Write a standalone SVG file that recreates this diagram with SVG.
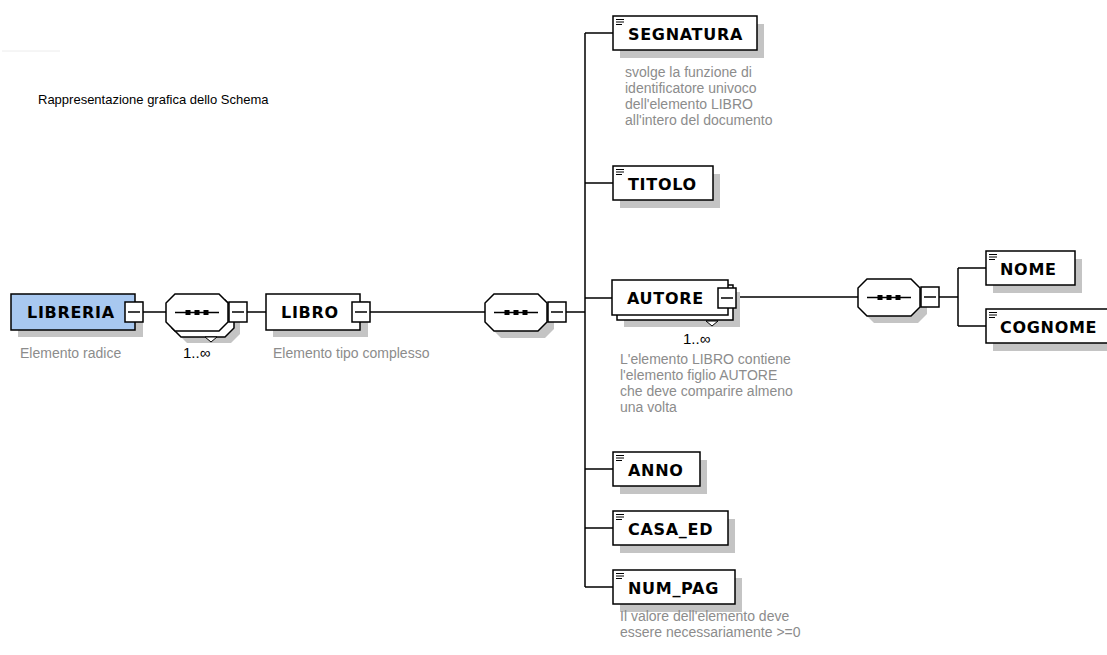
<svg xmlns="http://www.w3.org/2000/svg" xmlns:xlink="http://www.w3.org/1999/xlink" width="1107" height="655" viewBox="0 0 1107 655">
<style>
.box{fill:#fff;stroke:#000;stroke-width:1.5}
.root{fill:#a8c8f0;stroke:#000;stroke-width:1.5}
.sh{fill:#c4c4c4;stroke:none}
.ln{stroke:#000;stroke-width:1.5;fill:none}
.lbl{font-family:"DejaVu Sans",Verdana,sans-serif;font-weight:bold;font-size:16px;fill:#000;letter-spacing:0.7px}
.desc{font-family:"Liberation Sans",Arial,sans-serif;font-size:14px;fill:#8c8c8c}
.num{font-family:"Liberation Sans",Arial,sans-serif;font-size:15px;fill:#000}
.title{font-family:"Liberation Sans",Arial,sans-serif;font-size:13px;fill:#000}
</style>
<defs>
<g id="minus"><rect x="0" y="0" width="18" height="20" class="box"/><line x1="3" y1="10" x2="15" y2="10" class="ln"/></g>
<g id="icon"><path d="M0 0.5H8M0 3H8M0 5.5H6" stroke="#000" stroke-width="1" fill="none"/></g>
<path id="oct" d="M9 0H53L62 9V28L53 37H9L0 28V9Z"/>
<g id="seq"><line x1="9" y1="18.5" x2="53" y2="18.5" class="ln"/><rect x="19.5" y="16" width="5" height="5"/><rect x="28.5" y="16" width="5" height="5"/><rect x="37.5" y="16" width="5" height="5"/></g>
</defs>
<rect width="1107" height="655" fill="#fff"/>
<line x1="2" y1="51" x2="60" y2="51" stroke="#ececec" stroke-width="1"/>
<text class="title" x="38" y="104">Rappresentazione grafica dello Schema</text>

<g id="connectors">
<path class="ln" d="M143 312H166M247 312H266M370 312H485M566 312H585M585 33V587M585 33H613M585 183H613M585 298H612M585 469H613M585 528H613M585 587H613M735 297H858M939 297H958M958 268V326M958 268H986M958 326H986"/>
</g>

<g id="LIBRERIA">
<rect class="sh" x="18" y="301" width="125" height="36"/>
<rect class="root" x="11" y="294" width="124" height="36"/>
<text class="lbl" x="27" y="318">LIBRERIA</text>
<use xlink:href="#minus" x="125" y="302"/>
<text class="desc" x="20" y="358">Elemento radice</text>
</g>

<g id="seq1">
<use xlink:href="#oct" class="sh" x="178" y="306"/>
<use xlink:href="#oct" class="box" x="172" y="300"/>
<path d="M205 337H217L211 342Z" fill="#fff" stroke="#000" stroke-width="1"/>
<use xlink:href="#oct" class="box" x="166" y="294"/>
<use xlink:href="#seq" x="166" y="294"/>
<use xlink:href="#minus" x="229" y="302"/>
<text class="num" x="183" y="358">1..∞</text>
</g>

<g id="LIBRO">
<rect class="sh" x="273" y="301" width="95" height="36"/>
<rect class="box" x="266" y="294" width="94" height="36"/>
<text class="lbl" x="281" y="318">LIBRO</text>
<use xlink:href="#minus" x="352" y="302"/>
<text class="desc" x="273" y="358">Elemento tipo complesso</text>
</g>

<g id="seq2">
<use xlink:href="#oct" class="sh" x="492" y="301"/>
<use xlink:href="#oct" class="box" x="485" y="294"/>
<use xlink:href="#seq" x="485" y="294"/>
<use xlink:href="#minus" x="548" y="302"/>
</g>

<g id="SEGNATURA">
<rect class="sh" x="620" y="24" width="144" height="34"/>
<rect class="box" x="613" y="16" width="144" height="34"/>
<use xlink:href="#icon" x="616" y="19"/>
<text class="lbl" x="628" y="40">SEGNATURA</text>
<text class="desc" x="625" y="77">svolge la funzione di</text>
<text class="desc" x="625" y="93">identificatore univoco</text>
<text class="desc" x="625" y="109">dell'elemento LIBRO</text>
<text class="desc" x="625" y="125">all'intero del documento</text>
</g>

<g id="TITOLO">
<rect class="sh" x="620" y="174" width="100" height="34"/>
<rect class="box" x="613" y="166" width="100" height="34"/>
<use xlink:href="#icon" x="616" y="169"/>
<text class="lbl" x="628" y="190">TITOLO</text>
</g>

<g id="AUTORE">
<rect class="sh" x="624" y="292" width="116" height="35"/>
<rect class="box" x="617" y="285" width="116" height="35"/>
<path d="M706 321H718L712 326Z" fill="#fff" stroke="#000" stroke-width="1"/>
<rect class="box" x="612" y="280" width="116" height="35"/>
<text class="lbl" x="627" y="304">AUTORE</text>
<use xlink:href="#minus" x="718" y="288"/>
<text class="num" x="683" y="344">1..∞</text>
<text class="desc" x="620" y="364">L'elemento LIBRO contiene</text>
<text class="desc" x="620" y="380">l'elemento figlio AUTORE</text>
<text class="desc" x="620" y="396">che deve comparire almeno</text>
<text class="desc" x="620" y="412">una volta</text>
</g>

<g id="seq3">
<use xlink:href="#oct" class="sh" x="865" y="286"/>
<use xlink:href="#oct" class="box" x="858" y="279"/>
<use xlink:href="#seq" x="858" y="279"/>
<use xlink:href="#minus" x="921" y="287"/>
</g>

<g id="NOME">
<rect class="sh" x="993" y="259" width="89" height="34"/>
<rect class="box" x="986" y="251" width="89" height="34"/>
<use xlink:href="#icon" x="989" y="254"/>
<text class="lbl" x="1000" y="275">NOME</text>
</g>

<g id="COGNOME">
<rect class="sh" x="993" y="317" width="125" height="34"/>
<rect class="box" x="986" y="309" width="125" height="34"/>
<use xlink:href="#icon" x="989" y="312"/>
<text class="lbl" x="1000" y="333">COGNOME</text>
</g>

<g id="ANNO">
<rect class="sh" x="620" y="460" width="87" height="34"/>
<rect class="box" x="613" y="452" width="87" height="34"/>
<use xlink:href="#icon" x="616" y="455"/>
<text class="lbl" x="628" y="476">ANNO</text>
</g>

<g id="CASA_ED">
<rect class="sh" x="620" y="519" width="115" height="34"/>
<rect class="box" x="613" y="511" width="115" height="34"/>
<use xlink:href="#icon" x="616" y="514"/>
<text class="lbl" x="628" y="535">CASA_ED</text>
</g>

<g id="NUM_PAG">
<rect class="sh" x="620" y="578" width="122" height="34"/>
<rect class="box" x="613" y="570" width="122" height="34"/>
<use xlink:href="#icon" x="616" y="573"/>
<text class="lbl" x="628" y="594">NUM_PAG</text>
<text class="desc" x="620" y="621">Il valore dell'elemento deve</text>
<text class="desc" x="620" y="637">essere necessariamente &gt;=0</text>
</g>
</svg>
